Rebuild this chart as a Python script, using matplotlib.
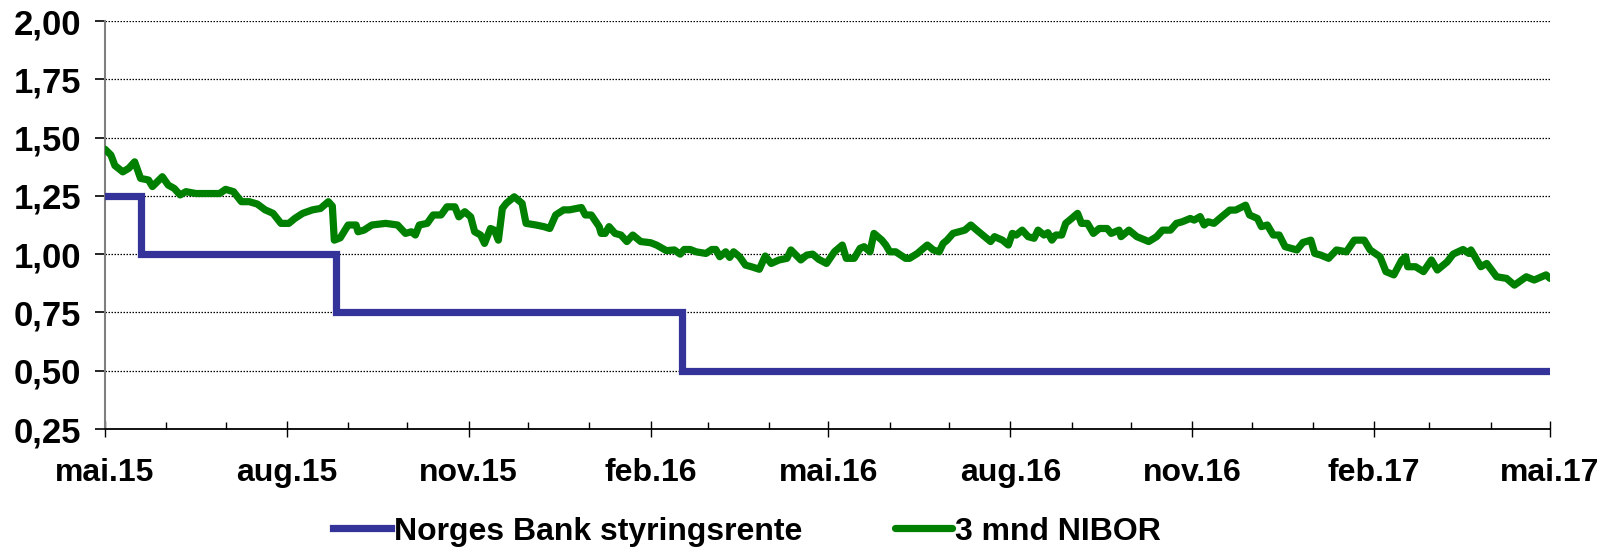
import datetime as dt
import numpy as np
import matplotlib
matplotlib.use("Agg")
import matplotlib.pyplot as plt
import matplotlib.dates as mdates
from matplotlib.ticker import FixedLocator, FixedFormatter
from matplotlib import font_manager

plt.rcParams['font.family'] = ['Liberation Sans', 'DejaVu Sans']
plt.rcParams['font.weight'] = 'bold'

# ---------------- data ----------------
start_date = dt.date(2015, 5, 1)
end_date = dt.date(2017, 5, 1)

# 3 mnd NIBOR: days after 1 May 2015, value in percent
nibor_days = [0, 3, 5, 9, 12, 15, 18, 22, 24, 29, 32, 35, 38, 41, 46, 58, 61, 65, 69, 73,
              77, 81, 85, 89, 93, 96, 100, 105, 109, 113, 115, 116, 119, 123, 127, 128, 131,
              135, 142, 148, 152, 155, 157, 159, 163, 166, 170, 173, 177, 179, 182, 185, 187,
              190, 192, 195, 197, 199, 201, 203, 207, 211, 213, 218, 222, 225, 228, 232, 235,
              241, 243, 246, 250, 251, 253, 255, 258, 261, 264, 267, 271, 276, 279, 284, 288,
              291, 293, 296, 299, 304, 307, 309, 311, 314, 316, 318, 321, 324, 327, 331, 334,
              337, 341, 345, 347, 352, 355, 358, 361, 365, 369, 373, 375, 379, 382, 384, 387,
              389, 393, 395, 397, 400, 405, 407, 411, 414, 416, 419, 422, 424, 426, 429, 432,
              435, 438, 441, 444, 448, 450, 454, 457, 459, 461, 464, 467, 470, 472, 475, 477,
              479, 481, 484, 486, 489, 492, 494, 497, 500, 503, 507, 509, 513, 514, 518, 522,
              528, 532, 535, 539, 542, 545, 549, 551, 554, 556, 558, 561, 565, 569, 572, 577,
              579, 583, 585, 588, 591, 594, 597, 600, 603, 606, 610, 612, 615, 619, 623, 628,
              632, 637, 640, 645, 648, 652, 656, 658, 659, 663, 667, 671, 674, 679, 682, 687,
              690, 691, 696, 699, 704, 709, 713, 719, 723, 729, 731]
nibor_vals = [1.45, 1.425, 1.38, 1.353, 1.368, 1.396, 1.325, 1.318, 1.29, 1.332, 1.296, 1.282,
              1.254, 1.268, 1.26, 1.26, 1.278, 1.268, 1.225, 1.225, 1.215, 1.19, 1.175, 1.132,
              1.132, 1.153, 1.175, 1.19, 1.196, 1.225, 1.206, 1.06, 1.07, 1.125, 1.125, 1.096,
              1.103, 1.125, 1.132, 1.125, 1.089, 1.096, 1.082, 1.125, 1.132, 1.168, 1.168,
              1.203, 1.203, 1.16, 1.182, 1.16, 1.096, 1.082, 1.046, 1.11, 1.103, 1.06, 1.196,
              1.218, 1.246, 1.218, 1.132, 1.125, 1.118, 1.11, 1.168, 1.19, 1.19, 1.20, 1.168,
              1.168, 1.118, 1.089, 1.089, 1.118, 1.089, 1.082, 1.054, 1.082, 1.054, 1.049,
              1.039, 1.015, 1.018, 1.0, 1.02, 1.02, 1.01, 1.003, 1.02, 1.02, 0.989, 1.01, 0.986,
              1.01, 0.989, 0.953, 0.946, 0.935, 0.992, 0.96, 0.975, 0.982, 1.018, 0.975, 0.996,
              1.0, 0.978, 0.96, 1.01, 1.039, 0.982, 0.982, 1.025, 1.032, 1.01, 1.089, 1.06,
              1.039, 1.01, 1.01, 0.982, 0.982, 1.003, 1.025, 1.039, 1.018, 1.01, 1.046, 1.06,
              1.089, 1.096, 1.103, 1.125, 1.103, 1.082, 1.054, 1.075, 1.06, 1.039, 1.089, 1.082,
              1.103, 1.075, 1.068, 1.103, 1.082, 1.092, 1.06, 1.082, 1.082, 1.132, 1.153, 1.175,
              1.132, 1.132, 1.089, 1.11, 1.11, 1.089, 1.103, 1.075, 1.103, 1.075, 1.054, 1.075,
              1.103, 1.103, 1.132, 1.139, 1.153, 1.146, 1.161, 1.125, 1.139, 1.132, 1.161,
              1.189, 1.189, 1.21, 1.168, 1.153, 1.118, 1.125, 1.082, 1.082, 1.032, 1.025, 1.018,
              1.05, 1.06, 1.003, 0.996, 0.982, 1.018, 1.01, 1.06, 1.06, 1.018, 0.989, 0.925,
              0.911, 0.975, 0.989, 0.946, 0.946, 0.925, 0.975, 0.932, 0.967, 1.0, 1.02, 1.003,
              1.018, 0.946, 0.96, 0.903, 0.896, 0.867, 0.903, 0.889, 0.911, 0.896]

# Norges Bank styringsrente: change days and new levels
policy_days = [0, 18, 117, 292, 731]
policy_vals = [1.25, 1.00, 0.75, 0.50, 0.50]

y_ticks = [0.25, 0.50, 0.75, 1.00, 1.25, 1.50, 1.75, 2.00]
x_tick_labels = ['mai.15', 'aug.15', 'nov.15', 'feb.16', 'mai.16',
                 'aug.16', 'nov.16', 'feb.17', 'mai.17']
series_names = ['Norges Bank styringsrente', '3 mnd NIBOR']

# ---------------- fonts ----------------
x_font = font_manager.FontProperties(family='Liberation Sans', weight='bold', size=23)
y_font = font_manager.FontProperties(family='Liberation Sans', weight='bold', size=25)
leg_font = font_manager.FontProperties(family='Liberation Sans', weight='bold', size=23)

# ---------------- plot ----------------
nibor_dates = [start_date + dt.timedelta(days=d) for d in nibor_days]
policy_dates = [start_date + dt.timedelta(days=d) for d in policy_days]

fig = plt.figure(figsize=(16.07, 5.48), dpi=100)
ax = fig.add_axes([105 / 1607, 1 - 429 / 548, 1445 / 1607, 408 / 548])

blue = '#333399'
green = '#008000'
l1, = ax.plot(policy_dates, policy_vals, drawstyle='steps-post', color=blue,
              linewidth=5.2, solid_joinstyle='miter', label=series_names[0], zorder=3)
l2, = ax.plot(nibor_dates, nibor_vals, color=green, linewidth=5.2,
              solid_joinstyle='round', solid_capstyle='round', label=series_names[1], zorder=4)

ax.set_xlim(start_date, end_date)
ax.set_ylim(0.25, 2.00)

ax.set_yticks(y_ticks)
ax.set_yticklabels([f"{v:.2f}".replace('.', ',') for v in y_ticks])
ax.yaxis.grid(True, linestyle=(0, (1.2, 1.2)), color='#000000', linewidth=0.9)
ax.set_axisbelow(True)

major_dates = [dt.date(2015 + (4 + 3 * i) // 12, (4 + 3 * i) % 12 + 1, 1) for i in range(len(x_tick_labels))]
ax.xaxis.set_major_locator(FixedLocator(mdates.date2num(major_dates)))
ax.xaxis.set_major_formatter(FixedFormatter(x_tick_labels))
ax.xaxis.set_minor_locator(mdates.MonthLocator())

for s in ['top', 'right']:
    ax.spines[s].set_visible(False)
ax.spines['left'].set_color('#7f7f7f')
ax.spines['left'].set_linewidth(1.5)
ax.spines['bottom'].set_color('#000000')
ax.spines['bottom'].set_linewidth(1.3)

ax.tick_params(axis='y', which='major', direction='out', length=7, width=1.2, pad=10)
ax.tick_params(axis='x', which='major', direction='inout', length=12, width=1.0, pad=15)
ax.tick_params(axis='x', which='minor', direction='in', length=5, width=1.0)
for lab in ax.get_xticklabels():
    lab.set_fontproperties(x_font)
for lab in ax.get_yticklabels():
    lab.set_fontproperties(y_font)

fig.legend(handles=[l1, l2], loc='center left', bbox_to_anchor=(333 / 1607, 0.03), ncol=2,
           frameon=False, borderpad=0.0, borderaxespad=0.0, handlelength=1.8,
           handletextpad=0.1, columnspacing=2.9, prop=leg_font)

fig.savefig('out.png', dpi=100, facecolor='white')
